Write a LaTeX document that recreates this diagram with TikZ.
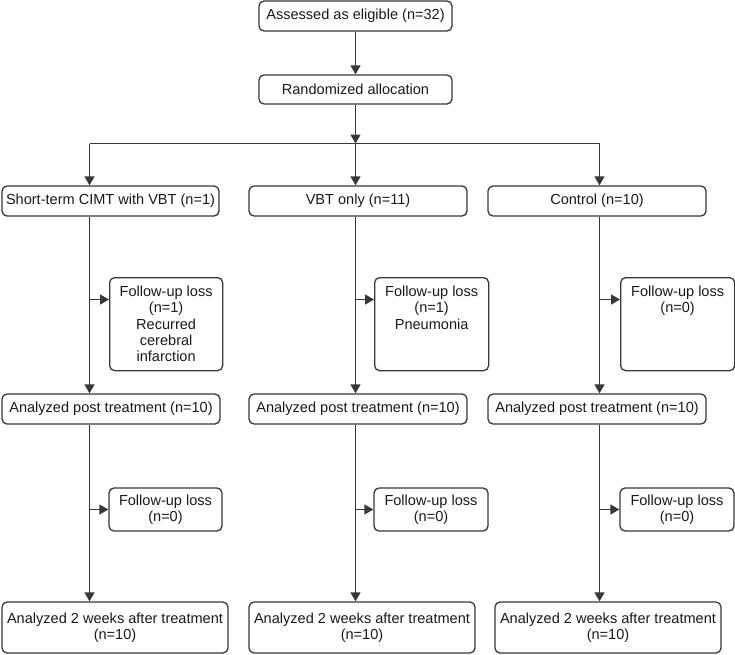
\documentclass[tikz,border=0pt]{standalone}
\usepackage{fontspec}
\setmainfont{Liberation Sans}
\usetikzlibrary{arrows,arrows.meta,shapes}

\tikzset{
  flowbox/.style={draw=black!78, line width=1.3pt, rounded corners=5pt, inner sep=0pt,
    align=center, text=black!90, font=\fontsize{14.55}{16.2}\selectfont},
  flowline/.style={draw=black!78, line width=1.4pt},
  flowarrow/.style={flowline, -{Triangle[width=10pt,length=9pt]}}
}

\begin{document}
\begin{tikzpicture}[x=1pt,y=-1pt]
\useasboundingbox (0,0) rectangle (735,654);
\node[flowbox, minimum width=193pt, minimum height=30pt] (elig) at (355.5,16) {Assessed as eligible (n=32)};
\node[flowbox, minimum width=193pt, minimum height=29pt] (rand) at (355.5,89.5) {Randomized allocation};
\begin{scope}[flowbox/.append style={minimum height=30pt}]
\node[flowbox, minimum width=217pt] (grpA) at (110.5,201) {Short-term CIMT with VBT (n=1)};
\node[flowbox, minimum width=218pt] (grpB) at (358,201) {VBT only (n=11)};
\node[flowbox, minimum width=218pt] (grpC) at (597,201) {Control (n=10)};
\end{scope}
\begin{scope}[flowbox/.append style={anchor=north west}]
\node[flowbox] (lossA1) at (109,277) {\parbox[c][93pt][t]{113pt}{\centering\rule{0pt}{19pt}Follow-up loss\\(n=1)\\Recurred\\cerebral\\infarction}};
\node[flowbox] (lossB1) at (374,277) {\parbox[c][93pt][t]{114pt}{\centering\rule{0pt}{19pt}Follow-up loss\\(n=1)\\Pneumonia}};
\node[flowbox] (lossC1) at (620,277) {\parbox[c][93pt][t]{114pt}{\centering\rule{0pt}{19pt}Follow-up loss\\(n=0)}};
\end{scope}
\begin{scope}[flowbox/.append style={minimum height=30pt, minimum width=218pt}]
\node[flowbox] (postA) at (111,409) {Analyzed post treatment (n=10)};
\node[flowbox] (postB) at (358,409) {Analyzed post treatment (n=10)};
\node[flowbox] (postC) at (597,409) {Analyzed post treatment (n=10)};
\end{scope}
\begin{scope}[flowbox/.append style={minimum height=43pt, minimum width=113pt}]
\node[flowbox] (lossA2) at (165.5,509.5) {Follow-up loss\\(n=0)};
\node[flowbox, minimum width=114pt] (lossB2) at (431,509.5) {Follow-up loss\\(n=0)};
\node[flowbox, minimum width=114pt] (lossC2) at (677,509.5) {Follow-up loss\\(n=0)};
\end{scope}
\begin{scope}[flowbox/.append style={minimum height=51pt, minimum width=226pt}]
\node[flowbox] (finA) at (115,627.5) {Analyzed 2 weeks after treatment\\(n=10)};
\node[flowbox] (finB) at (362,627.5) {Analyzed 2 weeks after treatment\\(n=10)};
\node[flowbox] (finC) at (608,627.5) {Analyzed 2 weeks after treatment\\(n=10)};
\end{scope}
\coordinate (colA) at (89.5,143.5);
\coordinate (colB) at (355.5,143.5);
\coordinate (colC) at (599.5,143.5);
\coordinate (sideA) at (89.5,299.5);
\coordinate (sideB) at (355.5,299.5);
\coordinate (sideC) at (599.5,299.5);
\draw[flowarrow] (elig) -- (rand);
\draw[flowarrow] (rand) -- (colB);
\draw[flowline] (colA) -- (colC);
\draw[flowarrow] (colA) -- (grpA.north -| colA);
\draw[flowarrow] (colB) -- (grpB.north -| colB);
\draw[flowarrow] (colC) -- (grpC.north -| colC);
\draw[flowarrow] (grpA.south -| colA) -- (postA.north -| colA);
\draw[flowarrow] (grpB.south -| colB) -- (postB.north -| colB);
\draw[flowarrow] (grpC.south -| colC) -- (postC.north -| colC);
\draw[flowarrow] (sideA) -- (lossA1.west |- sideA);
\draw[flowarrow] (sideB) -- (lossB1.west |- sideB);
\draw[flowarrow] (sideC) -- (lossC1.west |- sideC);
\draw[flowarrow] (postA.south -| colA) -- (finA.north -| colA);
\draw[flowarrow] (postB.south -| colB) -- (finB.north -| colB);
\draw[flowarrow] (postC.south -| colC) -- (finC.north -| colC);
\draw[flowarrow] (colA |- lossA2.west) -- (lossA2.west);
\draw[flowarrow] (colB |- lossB2.west) -- (lossB2.west);
\draw[flowarrow] (colC |- lossC2.west) -- (lossC2.west);
\end{tikzpicture}
\end{document}
